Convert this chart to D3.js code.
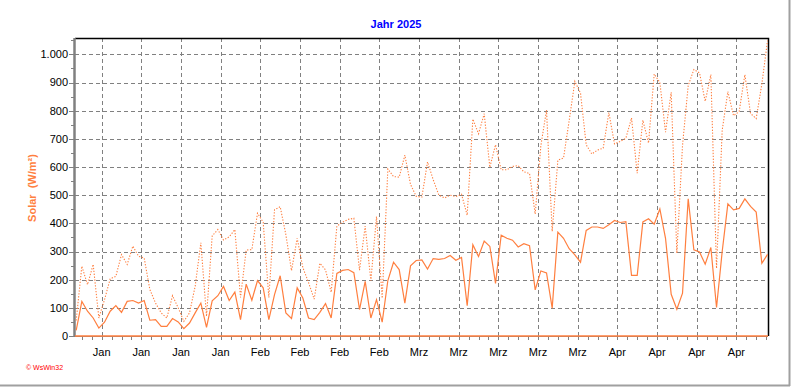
<!DOCTYPE html>
<html>
<head>
<meta charset="utf-8">
<script src="https://cdn.jsdelivr.net/npm/d3@7"></script>
<style>
  body { margin: 0; background: #fff; }
  svg { display: block; font-family: Arial, "Liberation Sans", sans-serif; }
</style>
</head>
<body>
<svg width="792" height="387"></svg>
<script>
// Solarstrahlung 2025, ein Wert pro Tag ab 1. Januar (W/m²)
const firstDay = [2025, 0, 1];

// Tagesmittel (durchgezogene Linie)
const solarAvg = [
  20, 123, 88, 64, 28, 49, 88, 108, 84, 123, 126, 117, 126, 56, 58, 34, 34, 62, 50, 26,
  46, 82, 117, 31, 125, 143, 176, 126, 156, 58, 184, 127, 197, 171, 58, 147, 214, 82, 62, 171,
  135, 64, 58, 84, 115, 64, 222, 233, 236, 225, 94, 194, 64, 129, 49, 197, 262, 236, 117, 249,
  268, 270, 238, 275, 272, 275, 286, 269, 279, 108, 324, 282, 337, 318, 187, 358, 347, 340, 316, 328,
  321, 164, 231, 224, 99, 369, 347, 310, 288, 262, 375, 387, 387, 382, 395, 410, 403, 406, 215, 215,
  405, 416, 397, 451, 347, 148, 95, 152, 487, 306, 298, 255, 314, 101, 300, 469, 448, 453, 487, 460,
  440, 258, 290
];

// Tagesmaximum (gepunktete Linie)
const solarMax = [
  55, 248, 182, 254, 64, 129, 203, 212, 289, 254, 319, 283, 277, 165, 117, 82, 64, 143, 100, 52,
  82, 177, 331, 70, 355, 378, 341, 352, 378, 137, 305, 307, 436, 404, 137, 448, 459, 360, 232, 347,
  243, 190, 131, 258, 235, 155, 390, 404, 414, 418, 234, 390, 196, 424, 134, 593, 566, 564, 642, 538,
  496, 493, 618, 555, 500, 490, 500, 495, 503, 429, 770, 718, 789, 599, 679, 590, 590, 602, 605, 583,
  577, 433, 676, 802, 371, 624, 632, 765, 904, 862, 679, 646, 660, 667, 793, 682, 691, 702, 774, 578,
  766, 685, 930, 900, 724, 865, 294, 677, 889, 946, 934, 833, 928, 240, 730, 868, 782, 797, 928, 790,
  772, 895, 1049
];

const monthNames = ["Jan", "Feb", "Mrz", "Apr", "Mai", "Jun", "Jul", "Aug", "Sep", "Okt", "Nov", "Dez"];
const yTicks = [0, 100, 200, 300, 400, 500, 600, 700, 800, 900, 1000];

const orange = "#ff7f3f";
const gridGray = "#808080";

const svg = d3.select("svg");

const plot = { left: 75, right: 768, top: 38, bottom: 336 };

// Zeitachse: Punkte liegen jeweils auf Tagesmitte
const x = d3.scaleTime()
  .domain([new Date(2025, 0, 1, 7), new Date(2025, 4, 3, 14)])
  .range([plot.left, plot.right]);

const y = d3.scaleLinear()
  .domain([0, 1058])
  .range([plot.bottom, plot.top]);

const days = solarAvg.map((v, i) => new Date(firstDay[0], firstDay[1], firstDay[2] + i, 12));

const de = d3.formatLocale({ decimal: ",", thousands: ".", grouping: [3], currency: ["", " €"] });
const fmt = de.format(",d");

// Fensterrahmen
svg.append("line").attr("x1", 789.5).attr("x2", 789.5).attr("y1", 0).attr("y2", 386)
  .attr("stroke", "#a0a0a0").attr("stroke-width", 2);
svg.append("line").attr("x1", 0).attr("x2", 790).attr("y1", 385.5).attr("y2", 385.5)
  .attr("stroke", "#a0a0a0").attr("stroke-width", 2);

// Titel
svg.append("text")
  .attr("x", 396).attr("y", 28)
  .attr("text-anchor", "middle")
  .attr("fill", "#0000ff")
  .attr("font-size", 11).attr("font-weight", "bold")
  .text("Jahr 2025");

// Y-Beschriftung
svg.append("text")
  .attr("transform", "translate(36,188) rotate(-90)")
  .attr("text-anchor", "middle")
  .attr("fill", orange)
  .attr("font-size", 11).attr("font-weight", "bold")
  .attr("xml:space", "preserve")
  .text("Solar  (W/m²)");

// Copyright
svg.append("text")
  .attr("x", 26).attr("y", 370)
  .attr("fill", "#ff0000")
  .attr("font-size", 7)
  .text("© WsWin32");

// Wochen (Montage) und Zwischenstriche
const mondays = d3.timeMonday.range(x.domain()[0], x.domain()[1]);
const minorX = [];
mondays.forEach((m) => {
  for (let k = -3; k < 4; k++) {
    const t = new Date(m.getTime() + k * 1.75 * 864e5);
    if (t >= x.domain()[0] && t <= x.domain()[1]) minorX.push(t);
  }
});

// Gitter
const grid = svg.append("g").attr("stroke", gridGray).attr("stroke-dasharray", "4,3")
  .attr("shape-rendering", "crispEdges");
grid.selectAll(".hg").data(yTicks.slice(1)).enter().append("line")
  .attr("x1", plot.left).attr("x2", plot.right)
  .attr("y1", (d) => Math.round(y(d)) + 0.5).attr("y2", (d) => Math.round(y(d)) + 0.5);
grid.selectAll(".vg").data(mondays).enter().append("line")
  .attr("x1", (d) => Math.round(x(d)) + 0.5).attr("x2", (d) => Math.round(x(d)) + 0.5)
  .attr("y1", plot.top).attr("y2", plot.bottom + 4);

// X-Striche und Beschriftung
const xt = svg.append("g").attr("stroke", gridGray).attr("shape-rendering", "crispEdges");
xt.selectAll("line").data(minorX).enter().append("line")
  .attr("x1", (d) => Math.round(x(d)) + 0.5).attr("x2", (d) => Math.round(x(d)) + 0.5)
  .attr("y1", plot.bottom).attr("y2", plot.bottom + 4);

svg.append("g").selectAll("text").data(mondays).enter().append("text")
  .attr("x", (d) => x(d))
  .attr("y", 356)
  .attr("text-anchor", "middle")
  .attr("font-size", 11)
  .attr("fill", "#000")
  .text((d) => monthNames[d.getMonth()]);

// Y-Striche und Beschriftung
const minorY = d3.range(0, 1051, 50);
svg.append("g").attr("stroke", gridGray).attr("shape-rendering", "crispEdges")
  .selectAll("line").data(minorY).enter().append("line")
  .attr("x1", (d) => (d % 100 === 0 ? 69 : 71)).attr("x2", plot.left)
  .attr("y1", (d) => Math.round(y(d)) + 0.5).attr("y2", (d) => Math.round(y(d)) + 0.5);

svg.append("g").selectAll("text").data(yTicks).enter().append("text")
  .attr("x", 68)
  .attr("y", (d) => y(d))
  .attr("dy", "0.36em")
  .attr("text-anchor", "end")
  .attr("font-size", 11)
  .attr("fill", "#000")
  .text((d) => fmt(d));

// Rahmen
svg.append("path")
  .attr("d", `M${plot.left},${plot.top + 0.5}H${plot.right + 0.5}V${plot.bottom}`)
  .attr("fill", "none").attr("stroke", "#000").attr("stroke-width", 1.5);
svg.append("line").attr("x1", plot.left - 0.5).attr("x2", plot.left - 0.5)
  .attr("y1", plot.top).attr("y2", plot.bottom + 1)
  .attr("stroke", gridGray).attr("stroke-width", 2.5);
svg.append("line").attr("x1", plot.left).attr("x2", plot.right)
  .attr("y1", plot.bottom + 0.5).attr("y2", plot.bottom + 0.5)
  .attr("stroke", gridGray).attr("stroke-width", 1);
svg.append("line").attr("x1", plot.left).attr("x2", plot.right)
  .attr("y1", plot.bottom).attr("y2", plot.bottom)
  .attr("stroke", orange).attr("stroke-width", 1.5);

// Datenlinien
const line = (vals) => d3.line()
  .x((d, i) => x(days[i]))
  .y((d) => y(d))(vals);

svg.append("path")
  .attr("d", line(solarMax))
  .attr("fill", "none")
  .attr("stroke", orange)
  .attr("stroke-width", 1.1)
  .attr("stroke-dasharray", "1.3,1.6");

svg.append("path")
  .attr("d", line(solarAvg))
  .attr("fill", "none")
  .attr("stroke", orange)
  .attr("stroke-width", 1.2);
</script>
</body>
</html>
